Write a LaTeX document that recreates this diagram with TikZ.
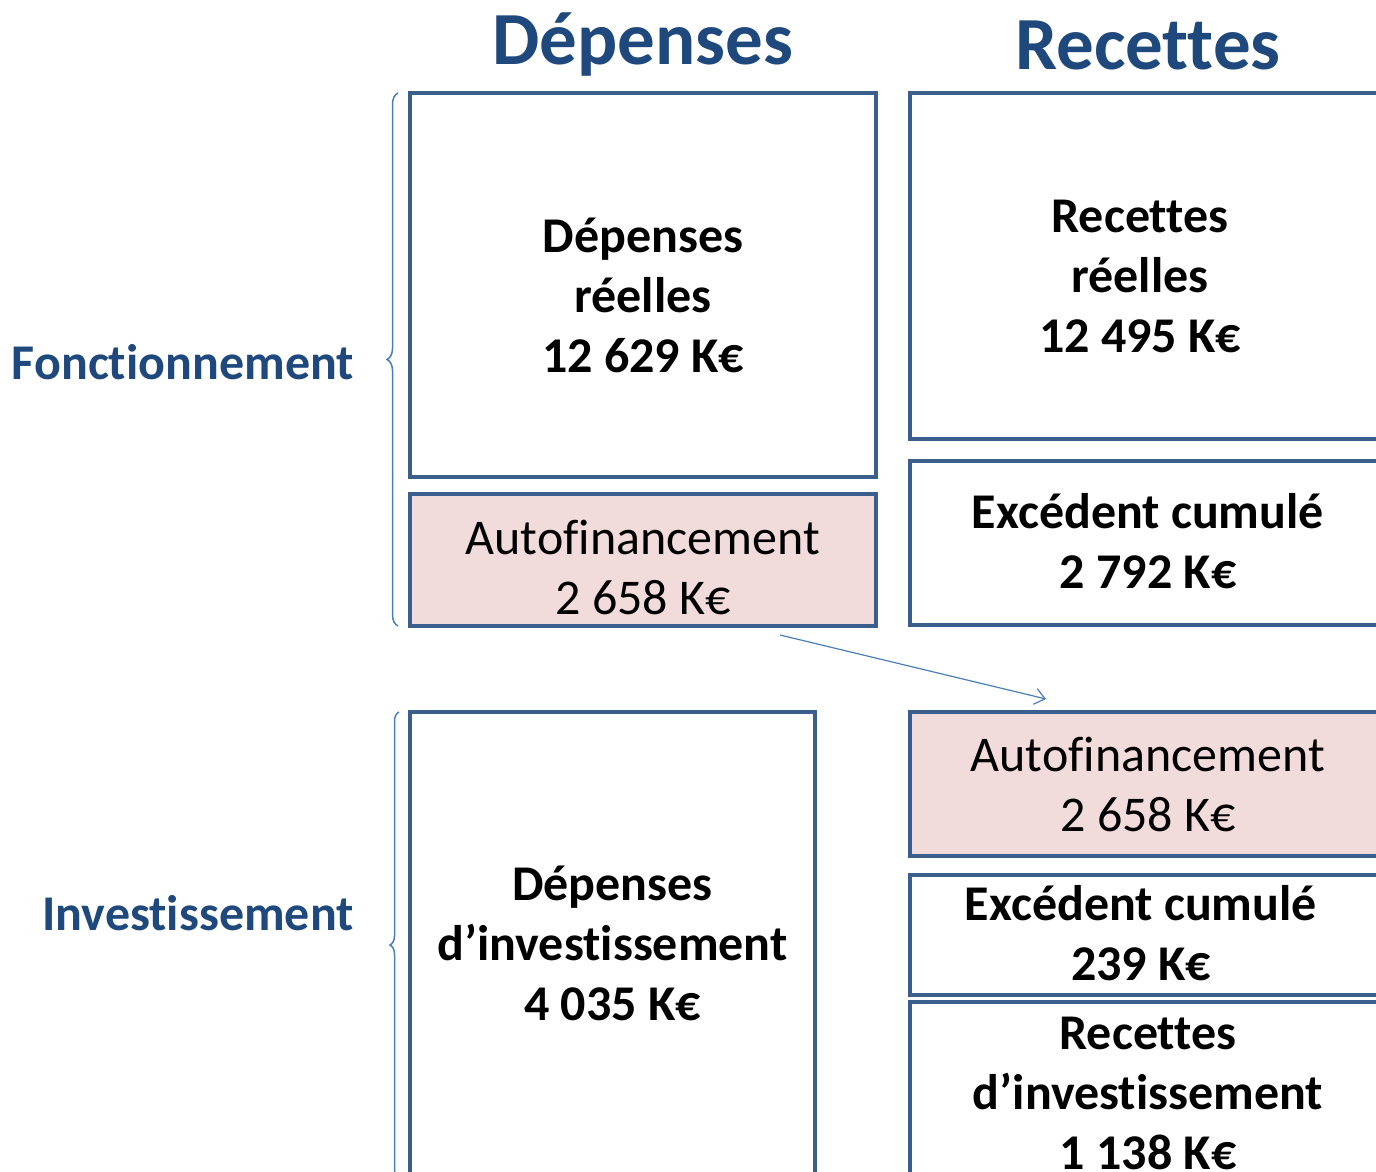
\documentclass[tikz,border=0pt]{standalone}
\usepackage{fontspec}
\setmainfont{Carlito}[Ligatures=NoCommon]
\usetikzlibrary{arrows.meta, calc, decorations.pathreplacing}
\definecolor{boxline}{HTML}{3A5F8C}
\definecolor{autofill}{HTML}{F2DCDB}
\definecolor{titleblue}{HTML}{1F497D}
\definecolor{lightblue}{HTML}{4A7EBB}

\begin{document}
\begin{tikzpicture}[x=1pt, y=-1pt,
    budget/.style={draw=boxline, line width=4pt, inner sep=0pt, outer sep=0pt},
    autofin/.style={budget, fill=autofill},
    boxtext/.style={align=center, inner sep=0pt, font=\fontsize{50}{60}\selectfont\bfseries},
    autotext/.style={boxtext, font=\fontsize{50}{60}\selectfont},
    heading/.style={text=titleblue, font=\fontsize{75}{80}\selectfont\bfseries},
    rowlabel/.style={text=titleblue, anchor=east, inner sep=0pt,
      font=\fontsize{50}{60}\selectfont\bfseries},
    bracket/.style={draw=lightblue, line width=1.5pt, decorate,
      decoration={brace, amplitude=#1}}
  ]
  \clip (0,0) rectangle (1376,1172);

  % column titles
  \node[heading] (hdep) at (643,45) {Dépenses};
  \node[heading] (hrec) at (1148,45) {Recettes};

  % fonctionnement
  \node[budget, minimum width=466, minimum height=384,
    label={[boxtext, yshift=-10pt]center:Dépenses\\réelles\\12 629 K€}] (depR) at (643,285) {};
  \node[autofin, minimum width=466, minimum height=132,
    label={[autotext, yshift=-7pt]center:Autofinancement\\2 658 K€}] (autoL) at (643,560) {};
  \node[budget, minimum width=476, minimum height=346,
    label={[boxtext, xshift=-8pt, yshift=-10pt]center:Recettes\\réelles\\12 495 K€}] (recR) at (1148,266) {};
  \node[budget, minimum width=476, minimum height=164,
    label={[boxtext, yshift=2pt]center:Excédent cumulé\\2 792 K€}] (excF) at (1148,543) {};

  % investissement
  \node[budget, minimum width=405, minimum height=466,
    label={[boxtext, yshift=2pt]center:Dépenses\\d’investissement\\4 035 K€}] (depI) at (612.5,945) {};
  \node[autofin, minimum width=476, minimum height=144,
    label={[autotext]center:Autofinancement\\2 658 K€}] (autoR) at (1148,784) {};
  \node[budget, minimum width=476, minimum height=120,
    label={[boxtext, xshift=-7pt, yshift=2pt]center:Excédent cumulé\\239 K€}] (excI) at (1148,935) {};
  \node[budget, minimum width=476, minimum height=182,
    label={[boxtext]center:Recettes\\d’investissement\\1 138 K€}] (recI) at (1148,1093) {};

  % sections
  \node[rowlabel] (fonc) at (354,362) {Fonctionnement};
  \node[rowlabel] (inv) at (354,913) {Investissement};
  \draw[bracket=11pt] ($(autoL.south west)+(-12,0)$) -- ($(depR.north west)+(-12,0)$);
  \draw[bracket=9pt] ($(depI.south west)+(-11,0)$) -- ($(depI.north west)+(-11,0)$);

  \coordinate (flowS) at ($(autoL.south west)+(370,9)$);
  \coordinate (flowE) at ($(autoR.north west)+(136,-13)$);
  \draw[lightblue, line width=1.2pt, -{Straight Barb[length=10pt, width=16pt]}]
    (flowS) -- (flowE);
\end{tikzpicture}
\end{document}
